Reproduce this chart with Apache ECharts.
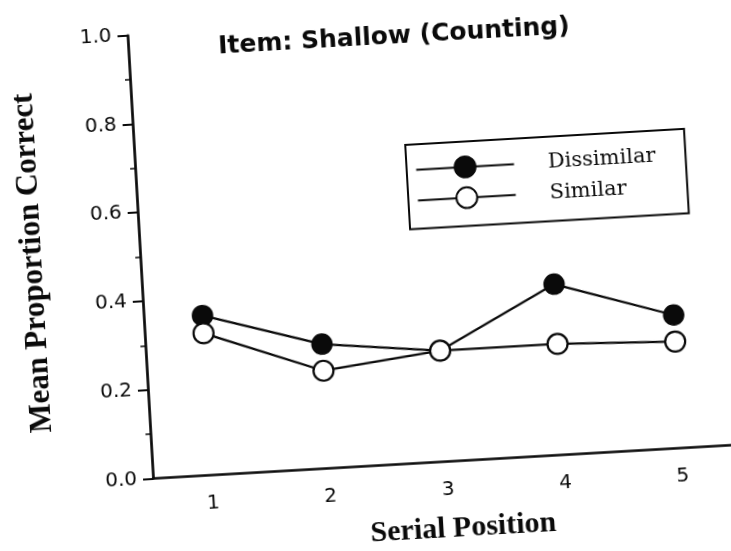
<!DOCTYPE html>
<html>
<head>
<meta charset="utf-8">
<script src="https://cdn.jsdelivr.net/npm/echarts@6/dist/echarts.min.js"></script>
<style>
  html, body { margin: 0; padding: 0; background: #fff; overflow: hidden; width: 731px; height: 551px; }
  #chart {
    position: absolute; left: 0; top: 0; width: 760px; height: 600px;
    transform-origin: 153px 478.3px;
    transform: rotate(-3.3deg);
  }
</style>
</head>
<body>
<div id="chart"></div>
<script>
// Data read from the (slightly rotated) scanned figure
var titleText = 'Item: Shallow (Counting)';
var xAxisName = 'Serial Position';
var yAxisName = 'Mean Proportion Correct';
var categories = ['1', '2', '3', '4', '5'];
var seriesNames = ['Dissimilar', 'Similar'];
var dissimilar = [0.36, 0.28, 0.25, 0.385, 0.30];
var similar = [0.32, 0.22, 0.25, 0.25, 0.24];
var yMin = 0, yMax = 1, yInterval = 0.2;

var chart = echarts.init(document.getElementById('chart'), null, { renderer: 'canvas' });
var ink = '#0a0a0a';
chart.setOption({
  animation: false,
  backgroundColor: '#ffffff',
  title: {
    text: titleText,
    left: 243, top: 39, padding: 0,
    textStyle: { fontFamily: 'DejaVu Sans', fontWeight: 'bold', fontSize: 25, color: ink }
  },
  legend: {
    orient: 'vertical',
    left: 424, top: 160,
    padding: [14, 30, 17, 8.5],
    itemWidth: 98, itemHeight: 26, itemGap: 8,
    borderColor: ink, borderWidth: 2,
    textStyle: { fontFamily: 'DejaVu Serif', fontSize: 21, color: ink, padding: [0, 0, 0, 29] },
    data: seriesNames
  },
  grid: { left: 153, right: 19, top: 34.8, bottom: 121.7, containLabel: false, outerBoundsMode: 'none' },
  xAxis: {
    type: 'category',
    data: categories,
    boundaryGap: true,
    name: xAxisName,
    nameLocation: 'middle',
    nameGap: 68,
    nameTextStyle: { fontFamily: 'Liberation Serif', fontWeight: 'bold', fontSize: 30, color: ink, verticalAlign: 'middle', padding: [0, 0, 0, 26] },
    axisLine: { lineStyle: { color: ink, width: 2.7 } },
    axisTick: { alignWithLabel: true, length: 7, lineStyle: { color: ink, width: 2 } },
    axisLabel: { margin: 18, fontFamily: 'DejaVu Sans', fontSize: 20, color: ink },
    splitLine: { show: false }
  },
  yAxis: {
    type: 'value',
    min: yMin, max: yMax, interval: yInterval,
    name: yAxisName,
    nameLocation: 'middle',
    nameGap: 107,
    nameRotate: 90,
    nameTextStyle: { fontFamily: 'Liberation Serif', fontWeight: 'bold', fontSize: 31, color: ink, verticalAlign: 'middle' },
    axisLine: { show: true, lineStyle: { color: ink, width: 2.7 } },
    axisTick: { show: true, length: 10, lineStyle: { color: ink, width: 2 } },
    minorTick: { show: true, splitNumber: 2, length: 5, lineStyle: { color: ink, width: 1.5 } },
    axisLabel: { margin: 16, fontFamily: 'DejaVu Sans', fontSize: 20, color: ink, formatter: function (v) { return v.toFixed(1); } },
    splitLine: { show: false }
  },
  series: [
    {
      name: seriesNames[0], type: 'line', data: dissimilar,
      symbol: 'circle', symbolSize: 20,
      lineStyle: { color: ink, width: 2.3 },
      itemStyle: { color: ink, borderColor: ink, borderWidth: 1.5 },
      emphasis: { disabled: true }
    },
    {
      name: seriesNames[1], type: 'line', data: similar,
      symbol: 'circle', symbolSize: 20,
      lineStyle: { color: ink, width: 2.3 },
      itemStyle: { color: '#ffffff', borderColor: ink, borderWidth: 2.2 },
      emphasis: { disabled: true }
    }
  ]
});
</script>
</body>
</html>
